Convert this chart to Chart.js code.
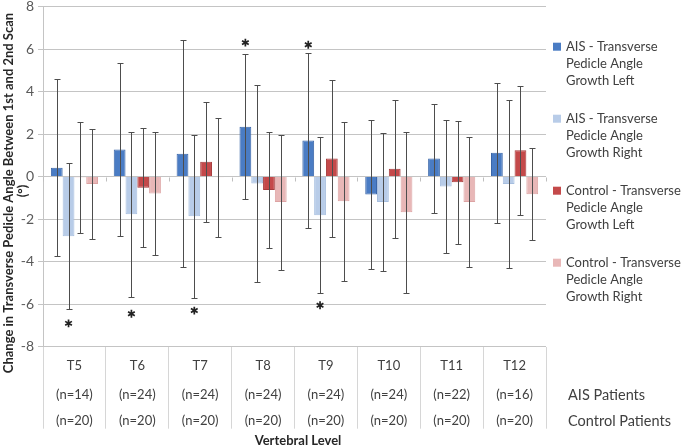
<!DOCTYPE html>
<html>
<head>
<meta charset="utf-8">
<script src="https://cdn.jsdelivr.net/npm/chart.js@4/dist/chart.umd.min.js"></script>
<style>
html,body{margin:0;padding:0;background:#fff;}
canvas{display:block;}
</style>
</head>
<body>
<canvas id="c" width="685" height="447"></canvas>
<script>
// ---------- data ----------
const categories = ['T5','T6','T7','T8','T9','T10','T11','T12'];
const aisCounts  = ['(n=14)','(n=24)','(n=24)','(n=24)','(n=24)','(n=24)','(n=22)','(n=16)'];
const ctrlCounts = ['(n=20)','(n=20)','(n=20)','(n=20)','(n=20)','(n=20)','(n=20)','(n=20)'];
const rowLabels = ['AIS Patients','Control Patients'];

const seriesNames = [
  ['AIS - Transverse','Pedicle Angle','Growth Left'],
  ['AIS - Transverse','Pedicle Angle','Growth Right'],
  ['Control - Transverse','Pedicle Angle','Growth Left'],
  ['Control - Transverse','Pedicle Angle','Growth Right']
];

const aisLeft    = [0.42, 1.27, 1.08, 2.35, 1.70, -0.84, 0.85, 1.12];
const aisLeftSD  = [4.15, 4.07, 5.35, 3.40, 4.13, 3.50, 2.57, 3.30];
const aisRight   = [-2.80, -1.77, -1.87, -0.33, -1.82, -1.20, -0.47, -0.35];
const aisRightSD = [3.45, 3.87, 3.85, 4.63, 3.67, 3.24, 3.11, 3.96];
const ctrlLeft   = [-0.03, -0.52, 0.70, -0.63, 0.85, 0.37, -0.27, 1.24];
const ctrlLeftSD = [2.60, 2.80, 2.83, 2.75, 3.67, 3.24, 2.90, 3.04];
const ctrlRight  = [-0.35, -0.80, -0.03, -1.20, -1.16, -1.68, -1.20, -0.83];
const ctrlRightSD= [2.60, 2.90, 2.80, 3.18, 3.75, 3.80, 3.07, 2.17];

// significance markers (asterisk positions, in axis units)
const aisLeftSig  = [null, null, null, 6.3, 6.2, null, null, null];
const aisRightSig = [-6.9, -6.45, -6.3, null, -6.05, null, null, null];

const yTitle = ['Change in Transverse Pedicle Angle Between 1st and 2nd Scan', '(°)'];
const xTitle = 'Vertebral Level';

const FONT = "Lato, 'Liberation Sans', Arial, sans-serif";

const fills   = ['#4A7CC4', '#B8CCE8', '#C4494A', '#E8B7B7'];
const borders = ['#3A66A8', '#A6BEDF', '#A63A3B', '#DDA3A3'];
const sdArrays = [aisLeftSD, aisRightSD, ctrlLeftSD, ctrlRightSD];
const sigArrays = [aisLeftSig, aisRightSig, null, null];

const values = [aisLeft, aisRight, ctrlLeft, ctrlRight];

// ---------- plugins ----------
const extras = {
  id: 'extras',
  afterDatasetsDraw(chart) {
    const ctx = chart.ctx;
    const ys = chart.scales.y;
    const area = chart.chartArea;
    ctx.save();
    // tick marks on the zero axis at category boundaries
    const y0 = Math.round(ys.getPixelForValue(0)) + 0.5;
    ctx.strokeStyle = '#BFBFBF';
    ctx.lineWidth = 1;
    const n = categories.length;
    const cw = (area.right - area.left) / n;
    for (let k = 0; k <= n; k++) {
      const x = Math.round(area.left + k * cw) + 0.5;
      ctx.beginPath(); ctx.moveTo(x, y0); ctx.lineTo(x, y0 + 4); ctx.stroke();
    }
    // error bars
    ctx.strokeStyle = '#4d4d4d';
    ctx.lineWidth = 1;
    sdArrays.forEach((sd, di) => {
      const meta = chart.getDatasetMeta(di);
      meta.data.forEach((bar, j) => {
        const v = chart.data.datasets[di].data[j];
        const x = Math.round(bar.x) + 0.5;
        const yt = Math.round(ys.getPixelForValue(v + sd[j])) + 0.5;
        const yb = Math.round(ys.getPixelForValue(v - sd[j])) + 0.5;
        ctx.beginPath();
        ctx.moveTo(x, yt); ctx.lineTo(x, yb);
        ctx.moveTo(x - 3, yt); ctx.lineTo(x + 3, yt);
        ctx.moveTo(x - 3, yb); ctx.lineTo(x + 3, yb);
        ctx.stroke();
      });
    });
    // asterisks
    ctx.strokeStyle = '#222';
    ctx.lineWidth = 1.7;
    sigArrays.forEach((sig, di) => {
      if (!sig) return;
      const meta = chart.getDatasetMeta(di);
      sig.forEach((s, j) => {
        if (s === null) return;
        const cx = meta.data[j].x;
        const cy = ys.getPixelForValue(s);
        const r = 3.9;
        ctx.beginPath();
        for (let a = 0; a < 3; a++) {
          const ang = Math.PI / 2 + a * Math.PI / 3;
          ctx.moveTo(cx + r * Math.cos(ang), cy + r * Math.sin(ang));
          ctx.lineTo(cx - r * Math.cos(ang), cy - r * Math.sin(ang));
        }
        ctx.stroke();
      });
    });
    ctx.restore();
  },
  afterDraw(chart) {
    const ctx = chart.ctx;
    const xs = chart.scales.x;
    ctx.save();
    // data table below axis
    ctx.fillStyle = '#404040';
    ctx.font = '13px ' + FONT;
    ctx.textAlign = 'center';
    ctx.textBaseline = 'middle';
    categories.forEach((c, i) => {
      const x = xs.getPixelForValue(i);
      ctx.fillText(c, x, 366);
      ctx.fillText(aisCounts[i], x, 395);
      ctx.fillText(ctrlCounts[i], x, 421);
    });
    ctx.textAlign = 'left';
    ctx.font = '14.5px ' + FONT;
    ctx.fillText(rowLabels[0], 568, 395);
    ctx.fillText(rowLabels[1], 568, 421);
    // x title
    ctx.fillStyle = '#262626';
    ctx.font = 'bold 13px ' + FONT;
    ctx.textAlign = 'center';
    ctx.fillText(xTitle, 298, 441);
    // y title (rotated)
    const drawRot = (txt, cx, cy, maxW) => {
      ctx.save();
      ctx.translate(cx, cy);
      ctx.rotate(-Math.PI / 2);
      const w = ctx.measureText(txt).width;
      if (maxW && w > maxW) ctx.scale(maxW / w, 1);
      ctx.fillText(txt, 0, 0);
      ctx.restore();
    };
    ctx.font = 'bold 13px ' + FONT;
    drawRot(yTitle[0], 9, 193, 366);
    drawRot(yTitle[1], 23, 191);
    // legend
    ctx.font = '13px ' + FONT;
    ctx.textAlign = 'left';
    seriesNames.forEach((lines, i) => {
      const top = 46.7 + 72 * i;
      ctx.fillStyle = fills[i];
      ctx.fillRect(553, top - 4, 8, 8);
      ctx.fillStyle = '#404040';
      lines.forEach((ln, k) => ctx.fillText(ln, 566, top + k * 17.3));
    });
    ctx.restore();
  }
};

// ---------- chart ----------
new Chart(document.getElementById('c'), {
  type: 'bar',
  data: {
    labels: categories,
    datasets: values.map((v, i) => ({
      label: seriesNames[i].join(' '),
      data: v,
      backgroundColor: fills[i],
      borderColor: borders[i],
      borderWidth: 1,
      categoryPercentage: 0.75,
      barPercentage: 1.0
    }))
  },
  options: {
    responsive: false,
    devicePixelRatio: 1,
    animation: false,
    layout: { padding: { left: 0, right: 139, top: 6.5, bottom: 0 } },
    plugins: { legend: { display: false }, tooltip: { enabled: false }, title: { display: false } },
    scales: {
      x: {
        grid: { offset: true, drawOnChartArea: false, drawTicks: true, tickLength: 82, color: '#D6D6D6' },
        border: { display: false },
        ticks: { display: false },
        afterFit(s) { s.height = 100.3; }
      },
      y: {
        min: -8, max: 8,
        ticks: { stepSize: 2, color: '#595959', font: { size: 14, family: FONT }, padding: 4 },
        grid: { color: '#C4C4C4', tickLength: 5, drawTicks: true },
        border: { color: '#C4C4C4' },
        afterFit(s) { s.width = 43; s.paddingTop = 0; s.paddingBottom = 0; }
      }
    }
  },
  plugins: [extras]
});
</script>
</body>
</html>
